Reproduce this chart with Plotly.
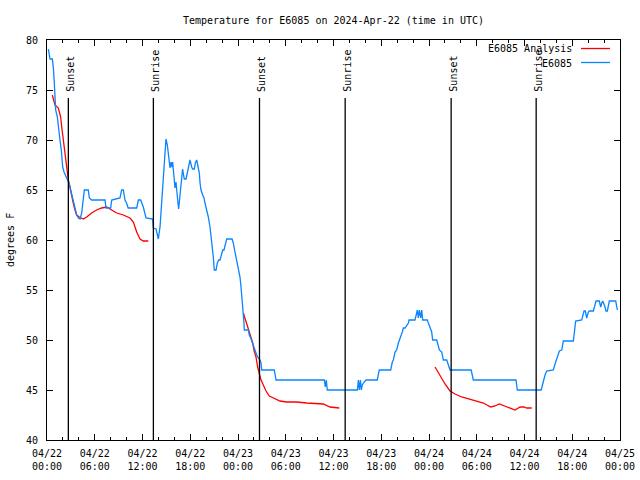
import pandas as pd
import plotly.graph_objects as go

# ---------------- data ----------------
START = pd.Timestamp("2024-04-22 00:00")

obs_hours = [0.17, 0.38, 0.67, 0.8, 0.92, 1.09, 1.3, 1.42, 1.63, 1.8, 1.97, 2.14, 2.39, 2.6, 2.8, 2.97,
             3.18, 3.3, 3.52, 3.73, 3.94, 4.15, 4.36, 4.56, 4.69, 5.19, 5.32, 5.61, 7.29, 7.41, 8.0, 8.13,
             9.17, 9.38, 9.59, 9.8, 10.0, 10.2, 11.27, 11.48, 11.77, 12.1, 12.44, 13.28, 13.36, 13.7, 13.99,
             14.2, 14.41, 14.62, 14.83, 14.95, 15.12, 15.24, 15.46, 15.58, 15.71, 15.79, 15.87, 16.0, 16.08,
             16.21, 16.29, 16.42, 16.54, 16.62, 16.79, 16.92, 17.04, 17.12, 17.25, 17.47, 17.63, 17.76, 17.97,
             18.18, 18.3, 18.51, 18.64, 18.81, 18.98, 19.14, 19.23, 19.35, 19.56, 19.73, 19.85, 20.07, 20.27,
             20.48, 20.61, 20.73, 20.9, 21.02, 21.24, 21.4, 21.57, 21.74, 21.91, 22.08, 22.24, 22.41, 22.58,
             23.25, 23.41, 23.62, 23.84, 24.04, 24.25, 24.38, 24.5, 24.67, 24.75, 24.79, 25.3, 25.42, 25.6,
             25.76, 25.93, 26.14, 26.35, 26.55, 26.77, 26.89, 26.98, 28.56, 28.78, 34.85, 34.97, 35.1, 35.22,
             35.52, 39.0, 39.13, 39.25, 39.38, 39.5, 39.62, 39.75, 40.09, 41.5, 41.75, 43.19, 43.39, 43.52,
             43.73, 43.94, 44.15, 44.36, 44.48, 44.65, 44.78, 44.99, 45.41, 45.49, 46.24, 46.46, 46.54, 46.66,
             46.79, 46.96, 47.08, 47.21, 47.79, 47.92, 48.13, 48.34, 48.46, 48.97, 49.17, 49.3, 49.6, 49.72,
             49.8, 50.23, 50.43, 50.64, 53.3, 53.57, 58.93, 59.1, 62.1, 62.29, 62.45, 62.58, 62.79, 63.62,
             63.84, 64.05, 64.25, 64.38, 64.68, 64.88, 66.14, 66.27, 66.35, 66.43, 67.19, 67.39, 67.48, 67.64,
             67.82, 68.02, 68.14, 68.65, 68.86, 68.99, 69.4, 69.58, 69.71, 69.83, 70.12, 70.24, 70.41, 70.66,
             71.46, 71.58, 71.67]
obs_temp = [79.1, 78.1, 78.1, 77.2, 75.7, 73.0, 72.3, 71.3, 70.0, 69.0, 67.3, 66.8, 66.3, 66.0, 65.6, 65.0,
            64.3, 63.7, 63.0, 62.5, 62.2, 62.1, 62.7, 64.0, 65.0, 65.0, 64.2, 64.0, 64.0, 63.2, 63.2, 64.0,
            64.2, 65.0, 65.0, 64.0, 63.7, 63.2, 63.2, 64.0, 64.0, 63.3, 62.2, 62.1, 61.2, 61.1, 60.1,
            61.3, 63.7, 66.3, 68.7, 70.1, 69.5, 68.7, 67.2, 67.8, 67.3, 67.8, 67.0, 65.8, 65.2,
            65.8, 65.3, 64.0, 63.1, 63.8, 64.8, 66.2, 67.1, 66.7, 66.1, 66.1, 66.7, 67.2, 68.0,
            67.3, 67.1, 67.1, 67.7, 68.0, 67.3, 66.7, 65.7, 65.0, 64.5, 64.2, 63.7, 63.0, 62.3,
            61.3, 60.5, 59.5, 58.3, 57.0, 57.0, 57.7, 58.0, 58.0, 58.5, 59.0, 59.0, 59.5, 60.1,
            60.1, 59.7, 58.8, 58.0, 57.2, 56.3, 55.3, 53.7, 52.5, 51.7, 51.0, 51.0, 50.5, 50.2,
            49.8, 49.5, 49.0, 48.5, 48.2, 48.0, 47.7, 47.0, 47.0, 46.0, 46.0, 45.3, 46.0, 45.0,
            45.0, 45.0, 46.0, 45.0, 46.0, 45.0, 45.5, 45.7, 46.0, 46.0, 47.0, 47.0, 47.8, 48.0,
            48.8, 49.0, 49.7, 50.1, 50.5, 50.8, 51.2, 51.2, 51.7, 52.0, 52.0, 52.7, 53.0, 52.2,
            53.0, 52.2, 53.0, 52.0, 52.0, 51.7, 51.3, 50.8, 50.0, 50.0, 49.4, 49.0, 48.8, 48.3,
            48.0, 48.0, 47.4, 47.0, 47.0, 46.0, 46.0, 45.0, 45.0, 45.7, 46.2, 46.5, 46.9, 47.0,
            47.6, 48.1, 48.6, 48.9, 49.0, 49.9, 49.9, 50.7, 51.5, 51.9, 52.0, 52.7, 52.9, 52.9,
            52.2, 52.8, 52.9, 52.9, 53.7, 53.9, 53.9, 53.3, 53.7, 53.9, 53.3, 52.9, 52.9, 53.9,
            53.9, 53.3, 53.0]

# analysis runs (three separate runs, separated by gaps)
ana1_hours = [0.67, 1.0, 1.42, 1.72, 1.85, 2.05, 2.26, 2.47, 2.68, 2.89, 3.1, 3.3, 3.52, 3.73, 4.06, 4.56,
              4.99, 5.61, 6.24, 6.87, 7.5, 8.13, 8.75, 9.59, 10.43, 10.85, 11.27, 11.69, 12.1, 12.73]
ana1_temp = [74.5, 73.5, 73.2, 72.3, 71.3, 70.0, 68.3, 67.0, 66.0, 65.3, 64.3, 63.7, 63.0, 62.5, 62.3, 62.1,
             62.3, 62.7, 63.0, 63.2, 63.3, 63.0, 62.7, 62.5, 62.2, 61.8, 60.8, 60.1, 59.9, 59.9]
ana2_hours = [24.67, 25.0, 25.3, 25.6, 25.85, 26.0, 26.26, 26.47, 26.64, 26.85, 27.18, 27.52, 27.94, 28.44,
              29.28, 30.12, 31.37, 32.63, 34.72, 35.56, 36.73]
ana2_temp = [52.7, 51.8, 51.0, 50.3, 49.7, 49.0, 48.3, 47.3, 46.7, 46.1, 45.5, 44.9, 44.4, 44.2,
             43.9, 43.8, 43.8, 43.7, 43.6, 43.3, 43.2]
ana3_hours = [48.76, 49.17, 49.6, 50.01, 50.64, 51.27, 52.11, 53.15, 53.99, 54.83, 55.76, 56.3, 56.84,
              57.55, 58.18, 58.81, 59.44, 59.94, 60.28, 60.91]
ana3_temp = [47.3, 46.7, 46.1, 45.6, 44.9, 44.6, 44.3, 44.1, 43.9, 43.7, 43.3, 43.4, 43.6,
             43.4, 43.2, 43.0, 43.3, 43.3, 43.2, 43.2]

sun_events = ["2024-04-22 02:41", "2024-04-22 13:22", "2024-04-23 02:42",
              "2024-04-23 13:28", "2024-04-24 02:47", "2024-04-24 13:28"]
sun_labels = ["Sunset", "Sunrise", "Sunset", "Sunrise", "Sunset", "Sunrise"]

y_ticks = [40, 45, 50, 55, 60, 65, 70, 75, 80]

TITLE = "Temperature for E6085 on 2024-Apr-22 (time in UTC)"
OBS_NAME = "E6085"
ANA_NAME = "E6085 Analysis"

RED = "#ff0000"
BLUE = "#0a84ff"
FONT = "DejaVu Sans Mono"

FIG_W, FIG_H = 640, 480

# ---------------- build ----------------
def to_time(hours):
    return [START + pd.Timedelta(hours=h) for h in hours]

ana_x, ana_y = [], []
for hs, vs in [(ana1_hours, ana1_temp), (ana2_hours, ana2_temp), (ana3_hours, ana3_temp)]:
    if ana_x:
        ana_x.append(None)
        ana_y.append(None)
    ana_x += to_time(hs)
    ana_y += vs

fig = go.Figure()
fig.add_trace(go.Scatter(x=ana_x, y=ana_y, mode="lines", name=ANA_NAME,
                         line=dict(color=RED, width=1.3), connectgaps=False))
fig.add_trace(go.Scatter(x=to_time(obs_hours), y=obs_temp, mode="lines", name=OBS_NAME,
                         line=dict(color=BLUE, width=1.3)))

LINE_TOP = 74.2
for t, lab in zip(sun_events, sun_labels):
    fig.add_shape(type="line", xref="x", yref="y", x0=t, x1=t, y0=40, y1=LINE_TOP,
                  line=dict(color="black", width=1.3))
    fig.add_annotation(x=t, y=74.65, xref="x", yref="y", text=lab, textangle=-90,
                       showarrow=False, xanchor="center", yanchor="bottom", xshift=2,
                       font=dict(family=FONT, size=10, color="black"))

# manual key (gnuplot style: text then sample line); pixel positions in the 640x480 picture
x0p, x1p = 47, 620
y0p, y1p = 40, 440
def px(x):
    return (x - x0p) / (x1p - x0p)
def py(y):
    return (y1p - y) / (y1p - y0p)

for name, col, ypix in [(ANA_NAME, RED, 49), (OBS_NAME, BLUE, 63)]:
    fig.add_annotation(x=px(574), y=py(ypix), xref="paper", yref="paper", text=name,
                       showarrow=False, xanchor="right", yanchor="middle",
                       font=dict(family=FONT, size=10, color="black"))
    fig.add_shape(type="line", xref="paper", yref="paper", x0=px(581), x1=px(610),
                  y0=py(ypix - 0.5), y1=py(ypix - 0.5), line=dict(color=col, width=1.3))

fig.add_annotation(x=px(10), y=0.5, xref="paper", yref="paper", text="degrees F",
                   textangle=-90, showarrow=False, xanchor="center", yanchor="middle",
                   font=dict(family=FONT, size=10, color="black"))

fig.update_layout(
    width=FIG_W, height=FIG_H,
    margin=dict(l=x0p, r=FIG_W - x1p, t=y0p, b=FIG_H - y1p, autoexpand=False),
    paper_bgcolor="white", plot_bgcolor="white",
    showlegend=False,
    font=dict(family=FONT, size=10, color="black"),
    title=dict(text=TITLE, x=0.5, xref="paper", xanchor="center",
               y=1 - 20 / FIG_H, yref="container", yanchor="middle",
               font=dict(family=FONT, size=10, color="black")),
)
fig.update_xaxes(
    type="date", range=["2024-04-22 00:00", "2024-04-25 00:00"],
    tick0="2024-04-22 00:00", dtick=6 * 3600 * 1000, tickformat="%m/%d<br>%H:%M",
    ticks="inside", ticklen=6, tickcolor="black", tickwidth=1, ticklabelstandoff=4,
    minor=dict(dtick=2 * 3600 * 1000, ticks="inside", ticklen=3, tickcolor="black", tickwidth=1),
    showline=True, linecolor="black", linewidth=1, mirror="allticks",
    showgrid=False, zeroline=False, automargin=False,
    tickfont=dict(family=FONT, size=10, color="black"),
)
fig.update_yaxes(
    range=[40, 80], tickvals=y_ticks, ticktext=[str(v) for v in y_ticks],
    ticks="inside", ticklen=6, tickcolor="black", tickwidth=1, ticklabelstandoff=6,
    showline=True, linecolor="black", linewidth=1, mirror="allticks",
    showgrid=False, zeroline=False, automargin=False,
    tickfont=dict(family=FONT, size=10, color="black"),
)

fig.write_html("out.html", config={"displayModeBar": False, "staticPlot": True},
               post_script="document.body.style.margin='0px';")
